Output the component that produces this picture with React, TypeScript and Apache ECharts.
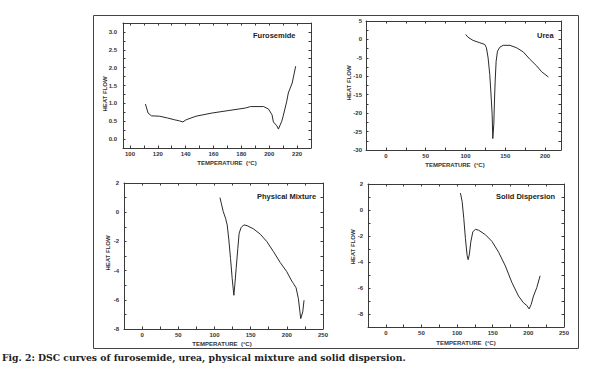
import React, { useEffect, useRef } from "react";
import * as echarts from "echarts";

// Furosemide [temperature °C, heat flow]
const furosemide: [number, number][] = [
  [111.1, 0.98], [113, 0.73], [115.4, 0.65], [121.3, 0.64], [127, 0.59], [132, 0.54],
  [135.5, 0.51], [138, 0.48], [140.3, 0.54], [147.4, 0.64], [159, 0.73], [171, 0.8],
  [183, 0.87], [186.5, 0.91], [196, 0.91], [199.5, 0.84], [202, 0.68], [203, 0.48],
  [205.5, 0.37], [206.6, 0.28], [209, 0.5], [210, 0.64], [212.6, 1.06], [213.7, 1.29],
  [216.5, 1.57], [219, 2.04],
];
const urea: [number, number][] = [
  [100.2, 1.36], [103, 0.63], [109.5, -0.27], [118, -0.9], [124.2, -1.36], [126.3, -2.26],
  [128.4, -5], [130.5, -9.5], [131.8, -14], [133.5, -20.3], [134.3, -26.9], [135.6, -23],
  [136.4, -16.7], [137.3, -11.3], [138.5, -5.9], [140.2, -3.2], [143.2, -2.1], [147.4, -1.6],
  [155.8, -1.6], [164.2, -2.26], [172.6, -3.4], [181, -5.4], [189.5, -7.2], [195.8, -8.8],
  [204.2, -10.2],
];
const physicalMixture: [number, number][] = [
  [107.6, 1.0], [109.4, 0.62], [112.1, 0.05], [115.3, -0.41], [117.6, -0.87], [119.9, -1.9],
  [122.2, -3.17], [124.5, -4.54], [126.8, -5.69], [128.1, -5.0], [130, -3.85], [132.3, -2.48],
  [134.1, -1.44], [136.8, -1.06], [140.5, -0.87], [145, -0.92], [154.2, -1.15], [163.4, -1.51],
  [172.5, -2.02], [181.7, -2.71], [190.8, -3.44], [200, -4.08], [206.9, -4.72], [209.2, -4.89],
  [212.8, -5.18], [216, -5.92], [219.2, -7.29], [222, -6.83], [223.8, -6.03],
];
const solidDispersion: [number, number][] = [
  [104.7, 1.3], [107.1, 0.65], [109.4, -0.65], [111.7, -2.2], [114.1, -3.5], [115.5, -3.82],
  [117.3, -3.38], [119.2, -2.47], [122, -1.69], [125.7, -1.48], [130.4, -1.56], [139.7, -1.9],
  [149, -2.42], [158.3, -3.25], [167.6, -4.29], [176.9, -5.58], [186.2, -6.62], [193.2, -7.14],
  [197.9, -7.35], [201.1, -7.61], [203.9, -7.27], [207.2, -6.62], [211.8, -5.97], [216.5, -5.06],
];

const titles = ["Furosemide", "Urea", "Physical Mixture", "Solid Dispersion"];
const xLabels1 = [100, 120, 140, 160, 180, 200, 220];
const xTicks1 = [100, 110, 120, 130, 140, 150, 160, 170, 180, 190, 200, 210, 220];
const yLabels1 = [0, 0.5, 1, 1.5, 2, 2.5, 3];
const yTicks1 = [0, 0.25, 0.5, 0.75, 1, 1.25, 1.5, 1.75, 2, 2.25, 2.5, 2.75, 3];
const xLabels2 = [0, 50, 100, 150, 200];
const xTicks2 = [0, 25, 50, 75, 100, 125, 150, 175, 200];
const yLabels2 = [-30, -25, -20, -15, -10, -5, 0, 5];
const yTicks2 = [-30, -27.5, -25, -22.5, -20, -17.5, -15, -12.5, -10, -7.5, -5, -2.5, 0, 2.5, 5];
const xLabels34 = [0, 50, 100, 150, 200, 250];
const xTicks34 = [0, 25, 50, 75, 100, 125, 150, 175, 200, 225, 250];
const yLabels34 = [-8, -6, -4, -2, 0, 2];
const yTicks3 = [-8, -7, -6, -5, -4, -3, -2, -1, 0, 1, 2];
const yTicks4 = [-9, -8, -7, -6, -5, -4, -3, -2, -1, 0, 1, 2];
const caption = "Fig. 2: DSC curves of furosemide, urea, physical mixture and solid dispersion.";

export default function App() {
  const ref = useRef<HTMLDivElement>(null);
  useEffect(() => {
    if (!ref.current) return;
    const chart = echarts.init(ref.current, undefined, { renderer: "svg" });
    const font = "Liberation Sans";
    const axisColor = "#3a3a3a";
    const panels = [
      { grid: { left: 123, top: 23, width: 188, height: 125 }, xmin: 95, xmax: 230, ymin: -0.25, ymax: 3.25,
        xl: xLabels1, xt: xTicks1, yl: yLabels1, yt: yTicks1, ymargin: 6, yfmt: (v: number) => v.toFixed(1), data: furosemide },
      { grid: { left: 366, top: 21, width: 195, height: 129 }, xmin: -25, xmax: 220, ymin: -30, ymax: 5,
        xl: xLabels2, xt: xTicks2, yl: yLabels2, yt: yTicks2, ymargin: 4, yfmt: (v: number) => String(v), data: urea },
      { grid: { left: 124, top: 183, width: 199, height: 146 }, xmin: -25, xmax: 250, ymin: -8, ymax: 2,
        xl: xLabels34, xt: xTicks34, yl: yLabels34, yt: yTicks3, ymargin: 5, yfmt: (v: number) => String(v), data: physicalMixture },
      { grid: { left: 368, top: 184, width: 196, height: 143 }, xmin: -25, xmax: 250, ymin: -9, ymax: 2,
        xl: xLabels34, xt: xTicks34, yl: yLabels34, yt: yTicks4, ymargin: 5, yfmt: (v: number) => String(v), data: solidDispersion },
    ];
    const grids: any[] = [];
    const xAxes: any[] = [];
    const yAxes: any[] = [];
    const series: any[] = [];
    panels.forEach((p, i) => {
      grids.push({ ...p.grid, containLabel: false });
      const common = {
        type: "value",
        gridIndex: i,
        splitLine: { show: false },
        axisLine: { show: true, onZero: false, lineStyle: { color: axisColor, width: 1 } },
      };
      xAxes.push({
        ...common, position: "bottom", min: p.xmin, max: p.xmax,
        axisTick: { show: true, inside: true, length: 2.5, customValues: p.xt, lineStyle: { color: axisColor } },
        axisLabel: { show: true, customValues: p.xl, margin: 3, fontSize: 6, fontFamily: font, fontWeight: "bold", color: "#333" },
      });
      xAxes.push({
        ...common, position: "top", min: p.xmin, max: p.xmax,
        axisTick: { show: true, inside: true, length: 2.5, customValues: p.xt, lineStyle: { color: axisColor } },
        axisLabel: { show: false },
      });
      yAxes.push({
        ...common, position: "left", min: p.ymin, max: p.ymax,
        axisTick: { show: true, inside: true, length: 2.5, customValues: p.yt, lineStyle: { color: axisColor } },
        axisLabel: { show: true, customValues: p.yl, margin: p.ymargin, formatter: p.yfmt, fontSize: 6, fontFamily: font, fontWeight: "bold", color: "#333" },
      });
      yAxes.push({
        ...common, position: "right", min: p.ymin, max: p.ymax,
        axisTick: { show: true, inside: true, length: 2.5, customValues: p.yt, lineStyle: { color: axisColor } },
        axisLabel: { show: false },
      });
      series.push({
        type: "line", name: titles[i], xAxisIndex: 2 * i, yAxisIndex: 2 * i, data: p.data,
        showSymbol: false, symbol: "none", lineStyle: { color: "#2a2a2a", width: 1 }, silent: true,
      });
    });

    const txt = (text: string, x: number, y: number, opts: any = {}) => ({
      type: "text", x, y, rotation: opts.rotation || 0, silent: true,
      style: {
        text, fill: opts.fill || "#333", fontSize: opts.fontSize || 6, fontFamily: opts.fontFamily || font,
        fontWeight: opts.fontWeight || "bold", textAlign: opts.align || "center", textVerticalAlign: "middle",
      },
    });

    const graphic: any[] = [
      { type: "rect", shape: { x: 93.5, y: 15.5, width: 485, height: 333 }, style: { fill: "none", stroke: "#444", lineWidth: 1 }, silent: true },
      txt(titles[0], 253, 35, { fontSize: 7.5, align: "left", fill: "#222" }),
      txt(titles[1], 537, 35, { fontSize: 7.5, align: "left", fill: "#222" }),
      txt(titles[2], 257, 196, { fontSize: 7.5, align: "left", fill: "#222" }),
      txt(titles[3], 496, 196, { fontSize: 7.5, align: "left", fill: "#222" }),
      txt("HEAT FLOW", 105, 94, { rotation: Math.PI / 2 }),
      txt("HEAT FLOW", 349, 83, { rotation: Math.PI / 2 }),
      txt("HEAT FLOW", 108, 253, { rotation: Math.PI / 2 }),
      txt("HEAT FLOW", 353, 247, { rotation: Math.PI / 2 }),
      txt("TEMPERATURE  (°C)", 227, 163),
      txt("TEMPERATURE  (°C)", 455, 165),
      txt("TEMPERATURE  (°C)", 222, 344),
      txt("TEMPERATURE  (°C)", 466, 343),
      txt(caption, 2, 357, { fontSize: 9.25, fontFamily: "DejaVu Serif", align: "left", fill: "#222" }),
    ];

    chart.setOption({
      animation: false,
      backgroundColor: "#ffffff",
      grid: grids,
      xAxis: xAxes,
      yAxis: yAxes,
      series,
      graphic,
    });
    return () => chart.dispose();
  }, []);
  return <div ref={ref} style={{ position: "fixed", left: 0, top: 0, width: 600, height: 369 }} />;
}
